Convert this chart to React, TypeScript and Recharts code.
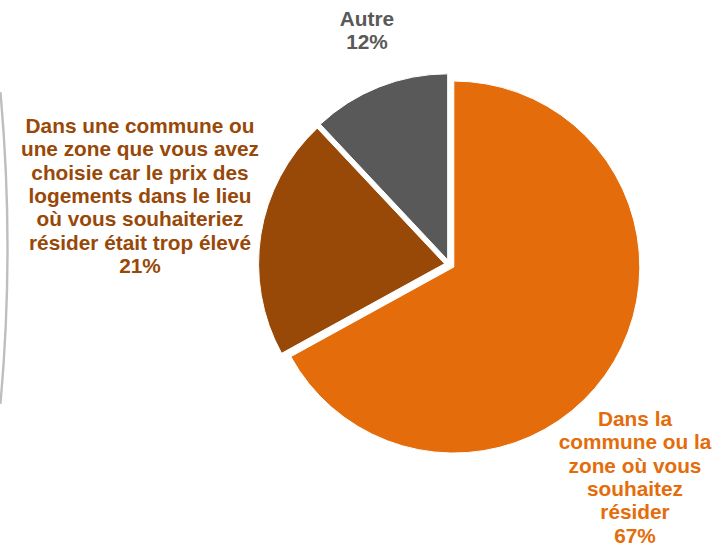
// Pie of where people chose to live — three exploded slices with bold
// colour-matched labels, plus the thin grey arc on the left edge.

import { Pie, PieChart } from "recharts";

const W = 718;
const H = 548;

const categories = [
  "Dans la commune ou la zone où vous souhaitez résider",
  "Dans une commune ou une zone que vous avez choisie car le prix des logements dans le lieu où vous souhaiteriez résider était trop élevé",
  "Autre",
];
const values = [67, 21, 12];
const labelLines = [
  ["Dans la", "commune ou la", "zone où vous", "souhaitez", "résider"],
  [
    "Dans une commune ou",
    "une zone que vous avez",
    "choisie car le prix des",
    "logements dans le lieu",
    "où vous souhaiteriez",
    "résider était trop élevé",
  ],
  ["Autre"],
];

const COLORS = ["#E46C0A", "#984807", "#595959"];
const FONT = "'Liberation Sans', Arial, sans-serif";

// layout
const CX = 449.5;
const CY = 264.5;
const R = 186;
const EXPLODE = 5;
const LINE_H = 23.3;
// center x / first-line center y of each label block
const LABEL_POS = [
  { x: 635, y: 418 },
  { x: 140, y: 125 },
  { x: 367, y: 18 },
];

const total = values.reduce((a, b) => a + b, 0);

function sliceAngles(i: number) {
  const before = values.slice(0, i).reduce((a, b) => a + b, 0);
  const start = 90 - (before / total) * 360;
  const end = start - (values[i] / total) * 360;
  return { start, end };
}

function makeLabel(i: number) {
  return () => {
    const p = LABEL_POS[i];
    const lines = [...labelLines[i], `${values[i]}%`];
    return (
      <text
        x={p.x}
        y={p.y}
        textAnchor="middle"
        dominantBaseline="central"
        fill={COLORS[i]}
        style={{ fontFamily: FONT, fontWeight: 700, fontSize: 20.8 }}
      >
        {lines.map((l, k) => (
          <tspan key={k} x={p.x} dy={k === 0 ? 0 : LINE_H}>
            {l}
          </tspan>
        ))}
      </text>
    );
  };
}

export default function App() {
  return (
    <div
      style={{
        position: "absolute",
        left: 0,
        top: 0,
        width: W,
        height: H,
        background: "#fff",
      }}
    >
      <PieChart width={W} height={H} margin={{ top: 0, right: 0, bottom: 0, left: 0 }}>
        {/* decorative arc hugging the left edge */}
        <Pie
          data={[{ name: "arc", value: 1 }]}
          dataKey="value"
          cx={-1712}
          cy={248}
          innerRadius={1718.3}
          outerRadius={1720.7}
          startAngle={5.2}
          endAngle={-5.2}
          fill="#BEBEBE"
          stroke="none"
          isAnimationActive={false}
        />
        {values.map((v, i) => {
          const { start, end } = sliceAngles(i);
          const mid = ((start + end) / 2) * (Math.PI / 180);
          return (
            <Pie
              key={categories[i]}
              data={[{ name: categories[i], value: v }]}
              dataKey="value"
              cx={CX + EXPLODE * Math.cos(mid)}
              cy={CY - EXPLODE * Math.sin(mid)}
              outerRadius={R}
              startAngle={start}
              endAngle={end}
              fill={COLORS[i]}
              stroke="#fff"
              strokeWidth={1}
              label={makeLabel(i)}
              labelLine={false}
              isAnimationActive={false}
            />
          );
        })}
      </PieChart>
    </div>
  );
}
